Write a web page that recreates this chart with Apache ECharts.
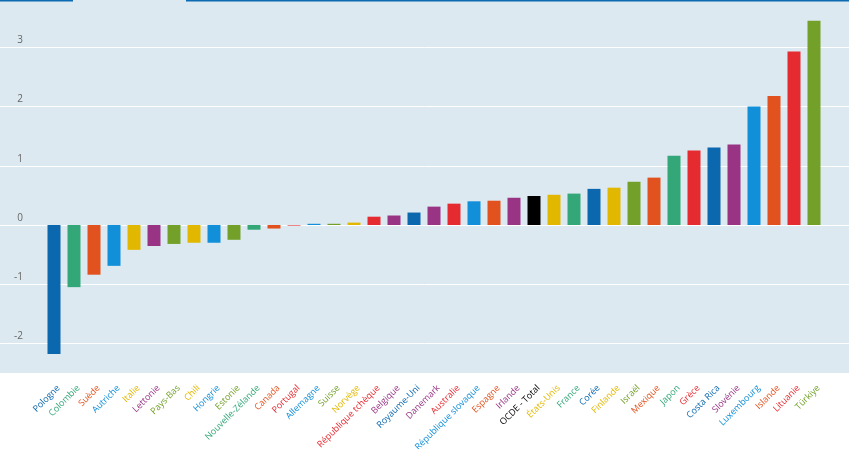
<!DOCTYPE html>
<html>
<head>
<meta charset="utf-8">
<script src="https://cdn.jsdelivr.net/npm/echarts@6/dist/echarts.min.js"></script>
<style>
html,body{margin:0;padding:0;background:#fff;}
#chart{width:849px;height:449px;}
</style>
</head>
<body>
<div id="chart"></div>
<script>
const categories = ["Pologne","Colombie","Suède","Autriche","Italie","Lettonie","Pays-Bas","Chili","Hongrie","Estonie","Nouvelle-Zélande","Canada","Portugal","Allemagne","Suisse","Norvège","République tchèque","Belgique","Royaume-Uni","Danemark","Australie","République slovaque","Espagne","Irlande","OCDE - Total","États-Unis","France","Corée","Finlande","Israël","Mexique","Japon","Grèce","Costa Rica","Slovénie","Luxembourg","Islande","Lituanie","Türkiye"];
const values = [-2.18,-1.05,-0.84,-0.69,-0.42,-0.355,-0.32,-0.30,-0.30,-0.25,-0.08,-0.06,-0.01,0.02,0.02,0.04,0.14,0.16,0.21,0.31,0.36,0.40,0.41,0.46,0.49,0.51,0.53,0.61,0.63,0.73,0.80,1.17,1.26,1.31,1.36,2.00,2.18,2.93,3.45];
const yMin = -2.5, yMax = 3.8, yStepMin = -3, yStep = 1;

const C = {
  dblue:'#0b67ae', green:'#33a777', orange:'#e2521e', lblue:'#118fd9',
  yellow:'#e2b700', purple:'#993484', olive:'#72a028', red:'#e52a30', black:'#000000'
};
const colorKeys = ['dblue','green','orange','lblue','yellow','purple','olive','yellow','lblue','olive','green','orange','red','lblue','olive','yellow','red','purple','dblue','purple','red','lblue','orange','purple','black','yellow','green','dblue','yellow','olive','orange','green','red','dblue','purple','lblue','orange','red','olive'];
const colors = colorKeys.map(k => C[k]);

const H = 449, bgBottom = 373;
const unit = bgBottom / (yMax - yMin);
const g0Bottom = H - (bgBottom + (yMin - yStepMin) * unit);

const chart = echarts.init(document.getElementById('chart'), null, {renderer:'canvas'});
chart.setOption({
  animation:false,
  backgroundColor:'#ffffff',
  graphic:[
    {type:'rect', z:-10, shape:{x:0,y:0,width:849,height:bgBottom}, style:{fill:'#dde9f1'}},
    {type:'rect', z:10, shape:{x:0,y:0,width:73,height:1.5}, style:{fill:'#0c6bb2'}},
    {type:'rect', z:10, shape:{x:186,y:0,width:663,height:1.5}, style:{fill:'#0c6bb2'}}
  ],
  grid:[
    {left:0,right:0,top:0,bottom:g0Bottom,show:false,containLabel:false,outerBoundsMode:'none'},
    {left:44,right:25,top:0,bottom:H-bgBottom,show:false,containLabel:false,outerBoundsMode:'none'}
  ],
  xAxis:[
    {gridIndex:0,type:'value',show:false,min:0,max:1},
    {gridIndex:1,type:'category',data:categories,
     axisLine:{show:false},axisTick:{show:false},
     axisLabel:{interval:0,rotate:45,margin:9,verticalAlign:'top',padding:[2,0,0,0],
       fontFamily:'Open Sans',fontSize:9,
       color:function(v,i){return colors[i];}}}
  ],
  yAxis:[
    {gridIndex:0,type:'value',min:yStepMin,max:yMax,interval:yStep,
     axisLine:{show:false},axisTick:{show:false},
     splitLine:{show:true,showMinLine:false,showMaxLine:false,lineStyle:{color:'#ffffff',width:1}},
     axisLabel:{inside:true,margin:23,align:'right',verticalAlign:'bottom',
       showMinLabel:false,showMaxLabel:false,
       formatter:function(v){return Number.isInteger(v)?String(v):'';},
       fontFamily:'Open Sans',fontSize:10,color:'#666666',padding:[0,0,2,0]}},
    {gridIndex:1,type:'value',min:yMin,max:yMax,show:false,splitLine:{show:false}}
  ],
  series:[{
    type:'bar',xAxisIndex:1,yAxisIndex:1,barWidth:13,
    data:values.map((v,i)=>({value:v,itemStyle:{color:colors[i]}}))
  }]
});
</script>
</body>
</html>
